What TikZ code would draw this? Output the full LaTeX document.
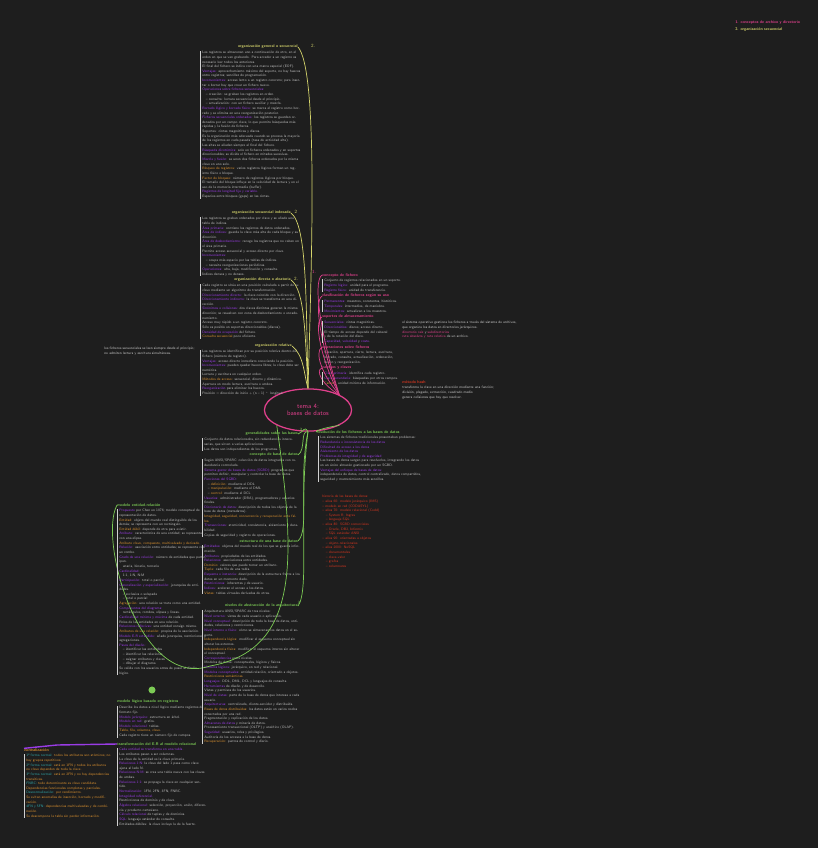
\documentclass[tikz,border=0pt]{standalone}
\usepackage{tikz}
\usetikzlibrary{arrows.meta, positioning, shapes.geometric}

\definecolor{fondo}{HTML}{1E1E1E}
\definecolor{gris}{HTML}{BDBDBD}
\definecolor{amar}{HTML}{D6D56C}
\definecolor{verde}{HTML}{7CCB55}
\definecolor{rosa}{HTML}{E0408C}
\definecolor{morado}{HTML}{9A3CE6}
\definecolor{naranja}{HTML}{DC9230}
\definecolor{rojo}{HTML}{D5361F}
\definecolor{turq}{HTML}{2FA5A8}

\newcommand{\hp}[1]{\textcolor{morado}{#1}}
\newcommand{\ho}[1]{\textcolor{naranja}{#1}}
\newcommand{\hk}[1]{\textcolor{rosa}{#1}}
\newcommand{\hq}[1]{\textcolor{turq}{#1}}

\begin{document}
\begin{tikzpicture}[x=0.025cm, y=-0.025cm,
            every node/.style={font=\sffamily},
            tema/.style={ellipse, draw=rosa, line width=0.9pt, text=rosa, align=center,
                         minimum width=62, minimum height=30, inner sep=0pt,
                         font=\sffamily\fontsize{4.6}{5.4}\selectfont},
            head/.style={inner sep=0pt, font=\sffamily\bfseries\fontsize{2.8}{3.2}\selectfont},
            body/.style={anchor=north west, inner sep=0pt, text=gris, align=left,
                         font=\sffamily\fontsize{2.5}{3.3}\selectfont},
            brk/.style={draw=gris!70, line width=0.25pt},
            rama/.style={line width=0.5pt},
            num/.style={inner sep=0pt, font=\sffamily\fontsize{3.4}{4}\selectfont},
            >=Stealth]

        \fill[fondo] (0,0) rectangle (818,848);
        \useasboundingbox (0,0) rectangle (818,848);

        % leyenda
        \node[head, anchor=west, text=rosa] (ley1) at (735,22) {1. conceptos de archivo y directorio};
        \node[head, anchor=west, text=amar] (ley2) at (735,29) {2. organización secuencial};

        % nodo central
        \node[tema] (C) at (308,410) {tema 4:\\bases de datos};

        % ---- rama 2 (amarilla)
        \node[head, anchor=east, text=amar] (Y1h) at (298,47) {organización general o secuencial};
        \node[body, text width=70pt] (Y1b) at (202,51) {Los registros se almacenan uno a continuación de otro, en el orden en que se van grabando. Para acceder a un registro es necesario leer todos los anteriores.\\
        El final del fichero se indica con una marca especial (EOF).\\
        \hp{Ventajas:} aprovechamiento máximo del soporte, no hay huecos entre registros; sencillez de programación.\\
        \hp{Inconvenientes:} acceso lento a un registro concreto; para insertar o borrar hay que crear un fichero nuevo.\\
        \hp{Operaciones sobre ficheros secuenciales:}\\
        \quad -- creación: se graban los registros en orden.\\
        \quad -- consulta: lectura secuencial desde el principio.\\
        \quad -- actualización: con un fichero auxiliar y mezcla.\\
        \hp{Borrado lógico y borrado físico:} se marca el registro como borrado y se elimina en una reorganización posterior.\\
        \hp{Ficheros secuenciales ordenados:} los registros se guardan ordenados por un campo clave, lo que permite búsquedas más rápidas y la fusión de ficheros.\\
        Soportes: cintas magnéticas y discos.\\
        Es la organización más adecuada cuando se procesa la mayoría de los registros en cada pasada (tasa de actividad alta).\\
        Las altas se añaden siempre al final del fichero.\\
        \hp{Búsqueda dicotómica:} solo en ficheros ordenados y en soportes direccionables; se divide el fichero en mitades sucesivas.\\
        \hp{Mezcla y fusión:} se unen dos ficheros ordenados por la misma clave en uno solo.\\
        \ho{Bloqueo de registros:} varios registros lógicos forman un registro físico o bloque.\\
        \ho{Factor de bloqueo:} número de registros lógicos por bloque.\\
        El tamaño del bloque influye en la velocidad de lectura y en el uso de la memoria intermedia (buffer).\\
        \hp{Registros de longitud fija y variable.}\\
        Espacios entre bloques (gaps) en las cintas.};
        \node[num, text=amar] (n2a) at (313,46) {2.};

        \node[head, anchor=east, text=amar] (Y2h) at (291,213) {organización secuencial indexada};
        \node[body, text width=70pt] (Y2b) at (202,217) {Los registros se graban ordenados por clave y se añade una tabla de índices.\\
        \hp{Área primaria:} contiene los registros de datos ordenados.\\
        \hp{Área de índices:} guarda la clave más alta de cada bloque y su dirección.\\
        \hp{Área de desbordamiento:} recoge los registros que no caben en el área primaria.\\
        Permite acceso secuencial y acceso directo por clave.\\
        \hp{Inconvenientes:}\\
        \quad -- ocupa más espacio por las tablas de índices.\\
        \quad -- necesita reorganizaciones periódicas.\\
        \hp{Operaciones:} alta, baja, modificación y consulta.\\
        Índices densos y no densos.};
        \node[num, text=amar] (n2b) at (296,212) {2};

        \node[head, anchor=east, text=amar] (Y3h) at (291,280) {organización directa o aleatoria};
        \node[body, text width=70pt] (Y3b) at (202,284) {Cada registro se sitúa en una posición calculada a partir de su clave mediante un algoritmo de transformación.\\
        \hp{Direccionamiento directo:} la clave coincide con la dirección.\\
        \hp{Direccionamiento indirecto:} la clave se transforma en una dirección.\\
        \hp{Sinónimos o colisiones:} dos claves distintas generan la misma dirección; se resuelven con zona de desbordamiento o encadenamiento.\\
        Acceso muy rápido a un registro concreto.\\
        Sólo es posible en soportes direccionables (discos).\\
        \hp{Densidad de ocupación} del fichero.\\
        \ho{Consulta secuencial} poco eficiente.};
        \node[num, text=amar] (n2c) at (296,279) {2.};

        \node[head, anchor=east, text=amar] (Y4h) at (292,346) {organización relativa};
        \node[body, text width=70pt] (Y4b) at (202,350) {Los registros se identifican por su posición relativa dentro del fichero (número de registro).\\
        \hp{Ventajas:} acceso directo inmediato conociendo la posición.\\
        \hp{Inconvenientes:} pueden quedar huecos libres; la clave debe ser numérica.\\
        Lectura y escritura en cualquier orden.\\
        \ho{Métodos de acceso:} secuencial, directo y dinámico.\\
        Apertura en modo lectura, escritura o ambos.\\
        \hp{Reorganización} para eliminar los huecos.\\
        Posición = dirección de inicio + (n -- 1) $\cdot$ longitud.};

        \node[body, text width=66pt, text=gris!80] (nota) at (104,347) {los ficheros secuenciales se leen siempre desde el principio; no admiten lectura y escritura simultáneas.};

        \draw[amar, rama] (C.north) .. controls (312,250) and (318,70) .. (Y1h.east);
        \draw[amar, rama] (C.north) .. controls (306,300) and (307,225) .. (Y2h.east);
        \draw[amar, rama] (C.north) .. controls (305,335) and (305,290) .. (Y3h.east);
        \draw[amar, rama] (C.north) .. controls (304,375) and (304,355) .. (Y4h.east);

        % ---- rama 1 (rosa)
        \node[head, anchor=west, text=rosa] (P1h) at (322,275) {concepto de fichero};
        \node[body, text width=58pt] (P1b) at (324,279) {Conjunto de registros relacionados en un soporte.\\
        \hp{Registro lógico:} unidad para el programa.\\
        \hp{Registro físico:} unidad de transferencia.};
        \node[head, anchor=west, text=rosa] (P2h) at (322,296) {clasificación de ficheros según su uso};
        \node[body, text width=58pt] (P2b) at (324,300) {\hp{Permanentes:} maestros, constantes, históricos.\\
        \hp{Temporales:} intermedios, de maniobra.\\
        \hp{Movimientos:} actualizan a los maestros.};
        \node[head, anchor=west, text=rosa] (P3h) at (322,317) {soportes de almacenamiento};
        \node[body, text width=58pt] (P3b) at (324,321) {\hp{Secuenciales:} cintas magnéticas.\\
        \hp{Direccionables:} discos; acceso directo.\\
        El tiempo de acceso depende del cabezal\\
        y de la rotación del disco.\\
        \hp{Capacidad}, \hp{velocidad} y \hp{coste}.};
        \node[head, anchor=west, text=rosa] (P4h) at (322,347) {operaciones sobre ficheros};
        \node[body, text width=58pt] (P4b) at (324,351) {Creación, apertura, cierre, lectura, escritura,\\
        borrado, consulta, actualización, ordenación,\\
        fusión y reorganización.};
        \node[head, anchor=west, text=rosa] (P5h) at (322,368) {campos y claves};
        \node[body, text width=58pt] (P5b) at (324,372) {\hp{Clave primaria:} identifica cada registro.\\
        \hp{Clave secundaria:} búsquedas por otros campos.\\
        \ho{Campo:} unidad mínima de información.};
        \node[num, text=rosa] (n1) at (314,272) {1.};

        \draw[rosa, rama] (C.north east) .. controls (322,340) and (312,282) .. (P1h.west);
        \draw[rosa, rama] (C.north east) .. controls (322,350) and (313,302) .. (P2h.west);
        \draw[rosa, rama] (C.north east) .. controls (322,362) and (313,322) .. (P3h.west);
        \draw[rosa, rama] (C.north east) .. controls (322,375) and (314,352) .. (P4h.west);
        \draw[rosa, rama] (C.north east) .. controls (322,385) and (315,370) .. (P5h.west);

        \node[body, text width=86pt, text=gris!80] (anot1) at (402,321) {el sistema operativo gestiona los ficheros a través del sistema de archivos, que organiza los datos en directorios jerárquicos.\\
        \hk{directorio raíz} y \hk{subdirectorios}\\
        \hk{ruta absoluta y ruta relativa} de un archivo.};
        \node[head, anchor=west, text=rojo] (hash) at (402,382) {método hash};
        \node[body, text width=86pt, text=gris!80] (anot2) at (402,386) {transforma la clave en una dirección mediante una función;\\
        división, plegado, extracción, cuadrado medio\\
        genera colisiones que hay que resolver.};

        % ---- rama 3 (verde)
        \node[head, anchor=west, text=verde] (Bh) at (318,432) {evolución de los ficheros a las bases de datos};
        \node[body, text width=72pt] (Bb) at (320,436) {Los sistemas de ficheros tradicionales presentaban problemas:\\
        \hp{Redundancia e inconsistencia de los datos}\\
        \hp{Dificultad de acceso a los datos}\\
        \hp{Aislamiento de los datos}\\
        \hp{Problemas de integridad y de seguridad}\\
        Las bases de datos surgen para resolverlos, integrando los datos en un único almacén gestionado por un SGBD.\\
        \hp{Ventajas del enfoque de bases de datos:}\\
        independencia de datos, control centralizado, datos compartidos, seguridad y mantenimiento más sencillos.};
        \node[body, text width=50pt, text=rojo] (Rb) at (322,495) {historia de las bases de datos:\\
        -- años 60: modelo jerárquico (IMS)\\
        -- modelo en red (CODASYL)\\
        -- años 70: modelo relacional (Codd)\\
        \quad -- System R, Ingres\\
        \quad -- lenguaje SQL\\
        -- años 80: SGBD comerciales\\
        \quad -- Oracle, DB2, Informix\\
        \quad -- SQL estándar ANSI\\
        -- años 90: orientadas a objetos\\
        \quad -- objeto-relacionales\\
        -- años 2000: NoSQL\\
        \quad -- documentales\\
        \quad -- clave-valor\\
        \quad -- grafos\\
        \quad -- columnares};
        \draw[verde, rama] (C.south east) .. controls (322,428) and (312,432) .. (Bh.west);

        \node[head, anchor=east, text=verde] (G1h) at (298,434) {generalidades sobre las bases};
        \node[body, text width=68pt] (G1b) at (204,438) {Conjunto de datos relacionados, sin redundancias innecesarias, que sirven a varias aplicaciones.\\
        Los datos son independientes de los programas.};
        \node[head, anchor=east, text=verde] (G2h) at (298,455) {concepto de base de datos};
        \node[body, text width=68pt] (G2b) at (204,459) {Según ANSI/SPARC: colección de datos integrados con redundancia controlada.\\
        \hp{Sistema gestor de bases de datos (SGBD):} programas que permiten definir, manipular y controlar la base de datos.\\
        \hp{Funciones del SGBD:}\\
        \quad -- \ho{definición:} mediante el DDL\\
        \quad -- \ho{manipulación:} mediante el DML\\
        \quad -- \ho{control:} mediante el DCL\\
        \hp{Usuarios:} administrador (DBA), programadores y usuarios finales.\\
        \hp{Diccionario de datos:} descripción de todos los objetos de la base de datos (metadatos).\\
        \ho{Integridad, seguridad, concurrencia y recuperación ante fallos.}\\
        \hp{Transacciones:} atomicidad, consistencia, aislamiento y durabilidad.\\
        Copias de seguridad y registro de operaciones.};
        \node[head, anchor=east, text=verde] (G3h) at (298,541) {estructura de una base de datos};
        \node[body, text width=68pt] (G3b) at (204,545) {\hp{Entidades:} objetos del mundo real de los que se guarda información.\\
        \hp{Atributos:} propiedades de las entidades.\\
        \hp{Relaciones:} asociaciones entre entidades.\\
        \ho{Dominio:} valores que puede tomar un atributo.\\
        \ho{Tupla:} cada fila de una tabla.\\
        \hp{Esquema e instancia:} descripción de la estructura frente a los datos en un momento dado.\\
        \hp{Restricciones:} inherentes y de usuario.\\
        \hp{Índices:} aceleran el acceso a los datos.\\
        \ho{Vistas:} tablas virtuales derivadas de otras.};
        \node[head, anchor=east, text=verde] (G4h) at (298,606) {niveles de abstracción de la arquitectura};
        \node[body, text width=68pt] (G4b) at (204,610) {Arquitectura ANSI/SPARC de tres niveles:\\
        \hp{Nivel externo:} vistas de cada usuario o aplicación.\\
        \hp{Nivel conceptual:} descripción de toda la base de datos, entidades, relaciones y restricciones.\\
        \hp{Nivel interno o físico:} cómo se almacenan los datos en el soporte.\\
        \ho{Independencia lógica:} modificar el esquema conceptual sin alterar los externos.\\
        \ho{Independencia física:} modificar el esquema interno sin alterar el conceptual.\\
        \hp{Correspondencias} entre niveles.\\
        Modelos de datos: conceptuales, lógicos y físicos.\\
        \hp{Modelos lógicos:} jerárquico, en red y relacional.\\
        \hp{Modelos conceptuales:} entidad-relación, orientado a objetos.\\
        \ho{Restricciones semánticas.}\\
        \hp{Lenguajes:} DDL, DML, DCL y lenguajes de consulta.\\
        \hp{Herramientas} de diseño y de desarrollo.\\
        Vistas y permisos de los usuarios.\\
        \hp{Nivel de vistas:} parte de la base de datos que interesa a cada usuario.\\
        \hp{Arquitecturas:} centralizada, cliente-servidor y distribuida.\\
        \ho{Bases de datos distribuidas:} los datos están en varios nodos conectados por una red.\\
        Fragmentación y replicación de los datos.\\
        \hp{Almacenes de datos} y minería de datos.\\
        Procesamiento transaccional (OLTP) y analítico (OLAP).\\
        \hp{Seguridad:} usuarios, roles y privilegios.\\
        Auditoría de los accesos a la base de datos.\\
        \ho{Recuperación:} puntos de control y diario.};
        \node[num, text=verde] (n3a) at (301,430) {3};
        \node[num, text=verde] (n3b) at (299,603) {3};

        \draw[verde, rama] (C.south) .. controls (304,425) and (304,432) .. (G1h.east);
        \draw[verde, rama] (C.south) .. controls (300,430) and (306,450) .. (G2h.east);
        \draw[verde, rama] (C.south) .. controls (298,480) and (310,530) .. (G3h.east);
        \draw[verde, rama] (C.south) .. controls (298,510) and (310,590) .. (G4h.east);

        % ---- modelos (verde, izquierda)
        \coordinate (codo) at (210,666);
        \node[head, anchor=west, text=verde] (L1h) at (117,505) {modelo entidad-relación};
        \node[body, text width=62pt] (L1b) at (119,509) {\hp{Propuesto} por Chen en 1976; modelo conceptual de representación de datos.\\
        \ho{Entidad:} objeto del mundo real distinguible de los demás; se representa con un rectángulo.\\
        \ho{Entidad débil:} depende de otra para existir.\\
        \hp{Atributo:} característica de una entidad; se representa con una elipse.\\
        \ho{Atributo clave, compuesto, multivaluado y derivado.}\\
        \hp{Relación:} asociación entre entidades; se representa con un rombo.\\
        \hp{Grado de una relación:} número de entidades que participan.\\
        \quad unaria, binaria, ternaria\\
        \hp{Cardinalidad:}\\
        \quad 1:1, 1:N, N:M\\
        \hp{Participación:} total o parcial.\\
        \hp{Generalización y especialización:} jerarquías de entidades.\\
        \quad -- exclusiva o solapada\\
        \quad -- total o parcial\\
        \ho{Agregación:} una relación se trata como una entidad.\\
        \hp{Componentes del diagrama:}\\
        \quad rectángulos, rombos, elipses y líneas.\\
        \hp{Cardinalidad mínima y máxima} de cada entidad.\\
        Roles de las entidades en una relación.\\
        \hp{Relaciones reflexivas:} una entidad consigo misma.\\
        \ho{Atributos de una relación:} propios de la asociación.\\
        \hp{Modelo E-R extendido:} añade jerarquías, restricciones y agregaciones.\\
        \hp{Pasos del diseño:}\\
        \quad -- identificar las entidades\\
        \quad -- identificar las relaciones\\
        \quad -- asignar atributos y claves\\
        \quad -- dibujar el diagrama\\
        Se valida con los usuarios antes de pasar al diseño lógico.};
        \draw[verde, rama] (C.south west) .. controls (296,560) and (300,650) .. (codo)
                           .. controls (140,690) and (98,540) .. (L1h.west);

        \node[head, anchor=west, text=verde] (L2h) at (117,702) {modelo lógico basado en registros};
        \node[body, text width=62pt] (L2b) at (119,706) {Describe los datos a nivel lógico mediante registros de formato fijo.\\
        \hp{Modelo jerárquico:} estructura en árbol.\\
        \hp{Modelo en red:} grafos.\\
        \hp{Modelo relacional:} tablas.\\
        \ho{Tabla, fila, columna, clave}.\\
        Cada registro tiene un número fijo de campos.};
        \node[circle, fill=verde, inner sep=0pt, minimum size=5] (punto) at (152,690) {};

        \node[head, anchor=west, text=verde] (L3h) at (117,744) {transformación del E-R al modelo relacional};
        \node[body, text width=62pt] (L3b) at (119,748) {\hp{Cada entidad se transforma en una tabla.}\\
        Los atributos pasan a ser columnas.\\
        La clave de la entidad es la clave primaria.\\
        \hp{Relaciones 1:N:} la clave del lado 1 pasa como clave ajena al lado N.\\
        \hp{Relaciones N:M:} se crea una tabla nueva con las claves de ambas.\\
        \hp{Relaciones 1:1:} se propaga la clave en cualquier sentido.\\
        \hp{Normalización:} 1FN, 2FN, 3FN, FNBC.\\
        \hp{Integridad referencial.}\\
        Restricciones de dominio y de clave.\\
        \hp{Álgebra relacional:} selección, proyección, unión, diferencia y producto cartesiano.\\
        \hp{Cálculo relacional} de tuplas y de dominios.\\
        \hp{SQL:} lenguaje estándar de consulta.\\
        Entidades débiles: la clave incluye la de la fuerte.};

        % normalización
        \node[head, anchor=west, text=naranja] (Nh) at (24,750) {normalización};
        \node[body, text width=60pt, text=naranja] (Nb) at (26,754) {\hq{1ª forma normal:} todos los atributos son atómicos; no hay grupos repetitivos.\\
        \hq{2ª forma normal:} está en 1FN y todos los atributos no clave dependen de toda la clave.\\
        \hq{3ª forma normal:} está en 2FN y no hay dependencias transitivas.\\
        \hq{FNBC:} todo determinante es clave candidata.\\
        Dependencias funcionales completas y parciales.\\
        \hq{Desnormalización:} por rendimiento.\\
        Se evitan anomalías de inserción, borrado y modificación.\\
        \hq{4FN y 5FN:} dependencias multivaluadas y de combinación.\\
        Se descompone la tabla sin perder información.};
        \coordinate (esq) at (57,745);
        \draw[morado, line width=1pt] (L3h.west) -- (esq) -- (Nh.north west);

        % corchetes de los bloques
        \foreach \b in {Y1b,Y2b,Y3b,Y4b,P1b,P2b,P3b,P5b,Bb,G1b,G2b,G3b,G4b,L1b,L2b,L3b,Nb}
            \draw[brk] ([xshift=-1.5pt]\b.north west) -- ([xshift=-1.5pt]\b.south west);

    \end{tikzpicture}
\end{document}
